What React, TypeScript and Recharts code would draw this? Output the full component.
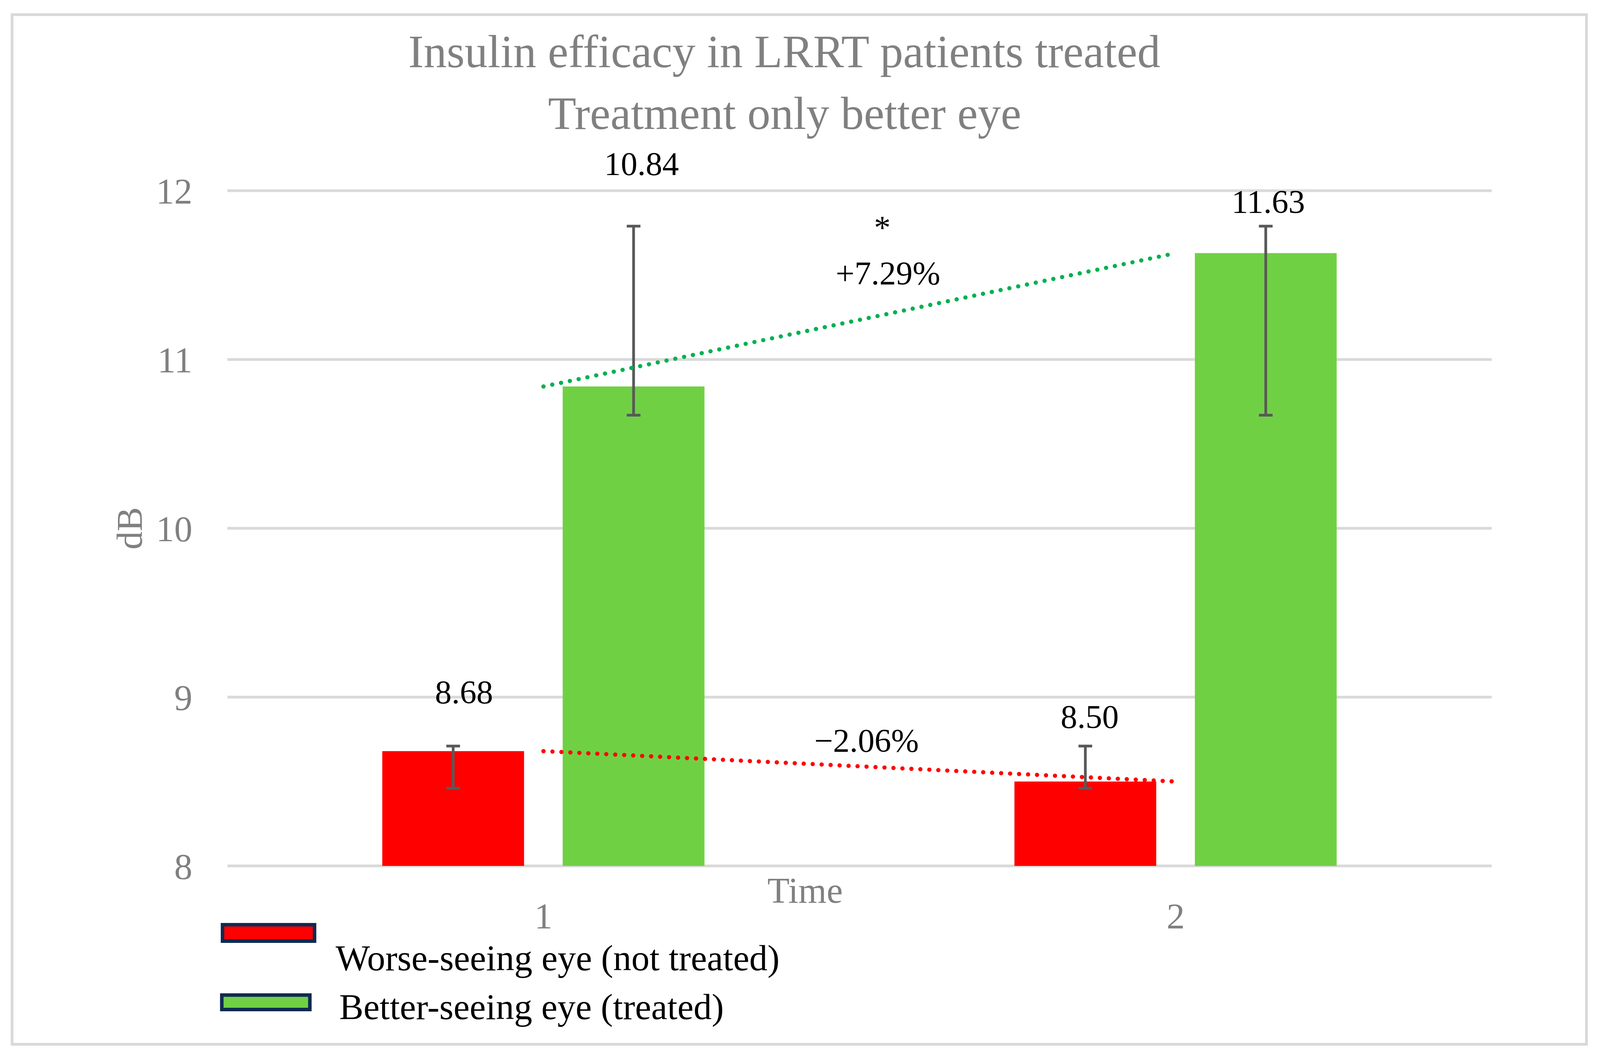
import React from 'react';
import {
  ComposedChart, Bar, Line, XAxis, YAxis, CartesianGrid, ErrorBar, LabelList,
} from 'recharts';

// values
const timePoints = ['1', '2'];
const worseEye = [8.68, 8.5];
const betterEye = [10.84, 11.63];
// asymmetric error bars: [below, above]
const worseErr = [[0.22, 0.03], [0.04, 0.21]];
const betterErr = [[0.17, 0.95], [0.96, 0.16]];
const yTicks = [8, 9, 10, 11, 12];

// change annotations: at = position on a 0..2 x range (category centres at 0.5 / 1.5), value = baseline in dB
const annotations = [
  { text: '*', at: 1.036, value: 11.715 },
  { text: '+7.29%', at: 1.045, value: 11.444 },
  { text: '\u22122.06%', at: 1.011, value: 8.676 },
];

const data = timePoints.map((t, i) => ({
  time: t,
  worse: worseEye[i],
  better: betterEye[i],
  worseErr: worseErr[i],
  betterErr: betterErr[i],
}));

// the browser caps the page at 4096px wide, so x positions are laid out on that width
const REF_W = 4433;
const W = typeof window !== 'undefined' ? Math.min(window.innerWidth || REF_W, REF_W) : REF_W;
const H = 2705;
const SX = W / REF_W;
const Y_MIN = 8;
const Y_MAX = 12;

const MARGIN = { top: 488, right: 300 * SX, bottom: 0, left: 0 };
const Y_AXIS_W = 630 * SX;
const X_AXIS_H = 489;
const PLOT_LEFT = MARGIN.left + Y_AXIS_W;
const PLOT_W = W - MARGIN.right - PLOT_LEFT;
const PLOT_H = H - MARGIN.top - MARGIN.bottom - X_AXIS_H;
const annX = (at: number) => PLOT_LEFT + (at / 2) * PLOT_W;
const annY = (v: number) => MARGIN.top + ((Y_MAX - v) / (Y_MAX - Y_MIN)) * PLOT_H;

const FONT = "'Liberation Serif', 'Times New Roman', serif";
const GRAY = '#808080';
const GRID = '#d9d9d9';
const RED = '#ff0000';
const GREEN = '#70d044';
const NAVY = '#0f2a52';

// [dx, lift above error-bar top] for each value label
const worseNudge = [[30, 109], [12, 46]];
const betterNudge = [[22, 131], [7, 34]];

const valueLabel = (errs: number[][], nudge: number[][]) => (props: any) => {
  const { x, y, width, height, value, index } = props;
  const pxPerUnit = Number(height) / (Number(value) - Y_MIN);
  const errTop = Number(y) - errs[index][1] * pxPerUnit;
  const [dx, lift] = nudge[index];
  return (
    <text
      x={Number(x) + Number(width) / 2 + dx * SX}
      y={errTop - lift}
      textAnchor="middle"
      fill="#000"
      fontFamily={FONT}
      fontSize={85}
    >
      {Number(value).toFixed(2)}
    </text>
  );
};

const timeLabel = (props: any) => {
  const vb = props.viewBox;
  return (
    <text x={vb.x + vb.width / 2 - 151 * SX} y={vb.y + 94} textAnchor="middle" fill={GRAY} fontFamily={FONT} fontSize={93}>
      Time
    </text>
  );
};

const dbLabel = (props: any) => {
  const vb = props.viewBox;
  const x = vb.x + 393 * SX;
  const y = vb.y + vb.height / 2;
  return (
    <text x={x} y={y} transform={`rotate(-90, ${x}, ${y})`} textAnchor="middle" fill={GRAY} fontFamily={FONT} fontSize={93}>
      dB
    </text>
  );
};

export default function App() {
  return (
    <div style={{ position: 'absolute', left: 0, top: 0, width: W, height: H, background: '#fff' }}>
      <ComposedChart
        width={W}
        height={H}
        data={data}
        margin={MARGIN}
        barCategoryGap="24.5%"
        barGap={107 * SX}
      >
        <CartesianGrid vertical={false} stroke={GRID} strokeWidth={7} />
        <XAxis
          dataKey="time"
          height={X_AXIS_H}
          axisLine={false}
          tickLine={false}
          tickSize={0}
          tickMargin={94}
          tick={{ fill: GRAY, fontSize: 93, fontFamily: FONT }}
          label={timeLabel}
        />
        <YAxis
          type="number"
          domain={[Y_MIN, Y_MAX]}
          ticks={yTicks}
          width={Y_AXIS_W}
          axisLine={false}
          tickLine={false}
          tickSize={0}
          tickMargin={97 * SX}
          tick={{ fill: GRAY, fontSize: 93, fontFamily: FONT }}
          label={dbLabel}
        />
        <Bar dataKey="worse" name="Worse-seeing eye (not treated)" fill={RED} isAnimationActive={false}>
          <ErrorBar dataKey="worseErr" direction="y" width={19 * SX} strokeWidth={7} stroke="#595959" />
          <LabelList dataKey="worse" content={valueLabel(worseErr, worseNudge)} />
        </Bar>
        <Bar dataKey="better" name="Better-seeing eye (treated)" fill={GREEN} isAnimationActive={false}>
          <ErrorBar dataKey="betterErr" direction="y" width={19 * SX} strokeWidth={7} stroke="#595959" />
          <LabelList dataKey="better" content={valueLabel(betterErr, betterNudge)} />
        </Bar>
        <Line
          dataKey="better"
          type="linear"
          stroke="#00b050"
          strokeWidth={11}
          strokeDasharray="0 23"
          strokeLinecap="round"
          dot={false}
          activeDot={false}
          legendType="none"
          isAnimationActive={false}
        />
        <Line
          dataKey="worse"
          type="linear"
          stroke={RED}
          strokeWidth={11}
          strokeDasharray="0 23"
          strokeLinecap="round"
          dot={false}
          activeDot={false}
          legendType="none"
          isAnimationActive={false}
        />
      </ComposedChart>

      <svg width={W} height={H} style={{ position: 'absolute', left: 0, top: 0, pointerEvents: 'none' }}>
        <rect x={33.5 * SX} y={37.5} width={4362 * SX} height={2635} fill="none" stroke={GRID} strokeWidth={7} />
        <text x={2173 * SX} y={172} textAnchor="middle" fill={GRAY} fontFamily={FONT} fontSize={118}>
          Insulin efficacy in LRRT patients treated
        </text>
        <text x={2174 * SX} y={330} textAnchor="middle" fill={GRAY} fontFamily={FONT} fontSize={118}>
          Treatment only better eye
        </text>
        {annotations.map((a) => (
          <text key={a.text} x={annX(a.at)} y={annY(a.value)} textAnchor="middle" fill="#000" fontFamily={FONT} fontSize={85}>
            {a.text}
          </text>
        ))}
        <rect x={616.5 * SX} y={2366.5} width={255 * SX} height={42} fill={RED} stroke={NAVY} strokeWidth={9} />
        <text x={930 * SX} y={2483} fill="#000" fontFamily={FONT} fontSize={93}>
          Worse-seeing eye (not treated)
        </text>
        <rect x={614.5 * SX} y={2546.5} width={244 * SX} height={37} fill={GREEN} stroke={NAVY} strokeWidth={9} />
        <text x={940 * SX} y={2608} fill="#000" fontFamily={FONT} fontSize={93}>
          Better-seeing eye (treated)
        </text>
      </svg>
    </div>
  );
}
